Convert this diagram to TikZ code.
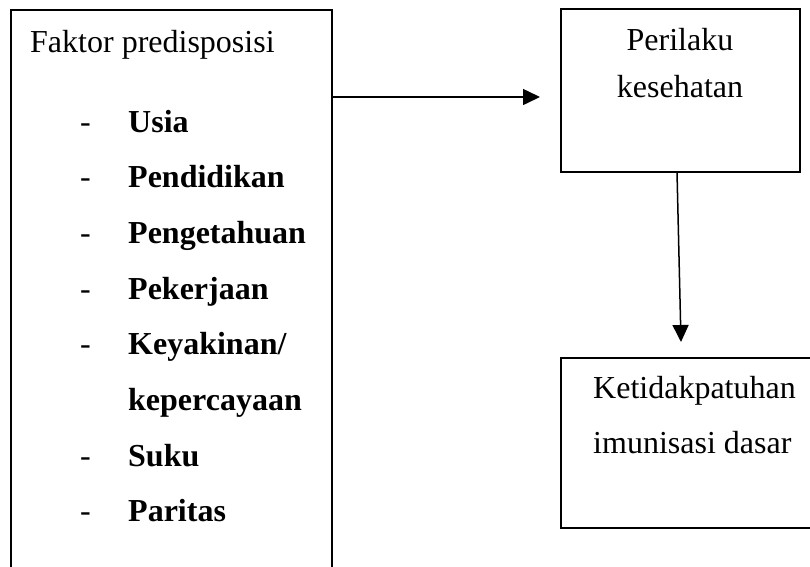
\documentclass[tikz,border=0pt]{standalone}
\usepackage{fontspec}
\setmainfont{Liberation Serif}
\usetikzlibrary{arrows.meta}
\begin{document}
\begin{tikzpicture}[x=1pt,y=-1pt,
  box/.style={draw=black,line width=1.5pt,rectangle,inner sep=0pt},
  txt/.style={inner sep=0pt,font=\fontsize{32}{38}\selectfont},
  itm/.style={txt,anchor=base west,font=\fontsize{32}{38}\selectfont\bfseries},
  dsh/.style={txt,anchor=base west},
  conn/.style={line width=1.5pt,-{Triangle[length=17pt,width=16pt]}}]
\useasboundingbox (0,0) rectangle (810,566);
\clip (0,0) rectangle (810,566);
% boxes
\node[box,minimum width=321pt,minimum height=580pt] (L) at (171.5,300) {};
\node[box,minimum width=239pt,minimum height=163pt] (P) at (680.5,90.5) {};
\node[box,minimum width=280pt,minimum height=170pt] (K) at (701,443) {};
% texts
\node[txt,anchor=base west] (t0) at (30,52) {Faktor predisposisi};
\foreach \i/\w in {0/Usia,1/Pendidikan,2/Pengetahuan,3/Pekerjaan,6/Suku,7/Paritas}{
  \node[dsh] (d\i) at (80,{132+55.7*\i}) {-};
  \node[itm] (w\i) at (128,{132+55.7*\i}) {\w};
}
\node[dsh] (d4) at (80,{132+55.7*4}) {-};
\node[itm] (w4) at (128,{132+55.7*4}) {Keyakinan/};
\node[itm] (w5) at (128,{132+55.7*5}) {kepercayaan};
\node[txt,anchor=base] (p1) at (680,50) {Perilaku};
\node[txt,anchor=base] (p2) at (680,97) {kesehatan};
\node[txt,anchor=base west] (k1) at (593,398) {Ketidakpatuhan};
\node[txt,anchor=base west] (k2) at (593,453) {imunisasi dasar};
% connectors
\coordinate (a1) at (540,97);
\coordinate (a2s) at (677,172);
\coordinate (a2) at (681,342);
\draw[conn] (L.east |- a1) -- (a1);
\draw[conn] (a2s) -- (a2);
\end{tikzpicture}
\end{document}
